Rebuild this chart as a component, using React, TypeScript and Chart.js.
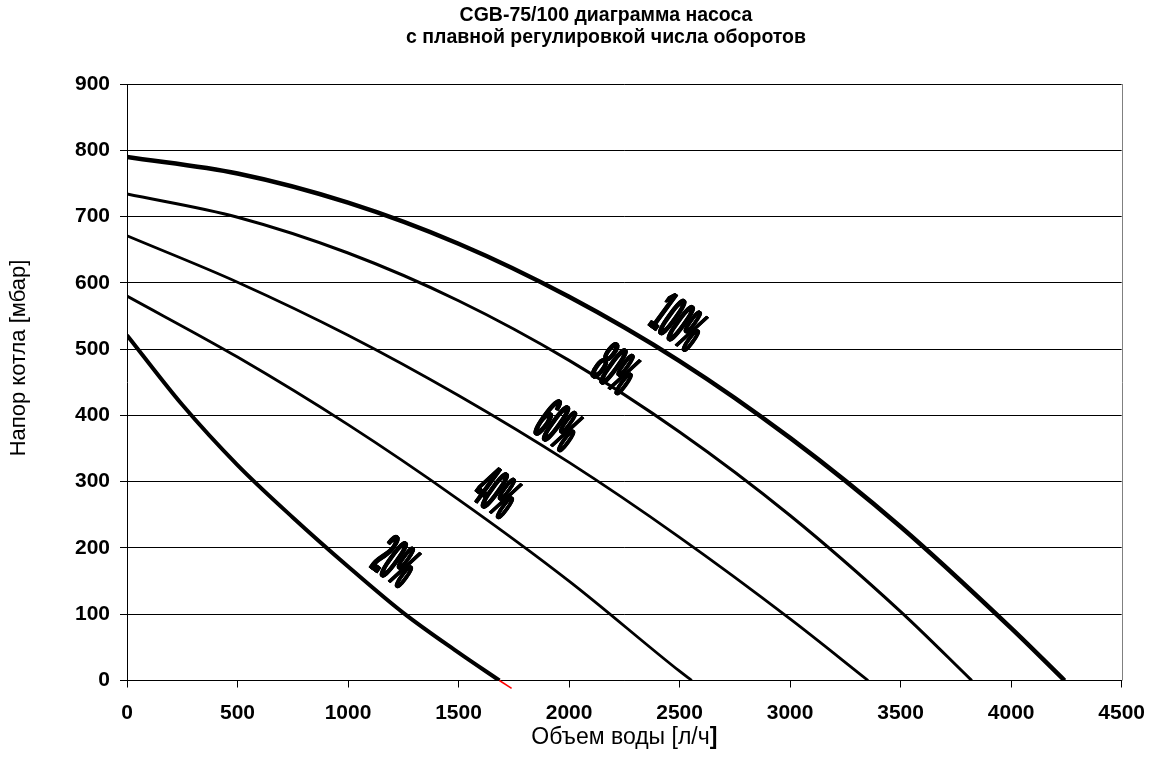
import React, { useEffect, useRef } from 'react';
import { Chart, registerables } from 'chart.js';

Chart.register(...registerables);

// ---- Text ----
const TITLE_LINES = ['CGB-75/100 диаграмма насоса', 'с плавной регулировкой числа оборотов'];
const X_TITLE = 'Объем воды [л/ч';
const X_TITLE_END = ']';
const Y_TITLE = 'Напор котла [мбар]';

// ---- Axes ----
const X_MIN = 0;
const X_MAX = 4500;
const X_STEP = 500;
const Y_MIN = 0;
const Y_MAX = 900;
const Y_STEP = 100;

// ---- Series (flow l/h, head mbar) ----
const flow100 = [0, 500, 1000, 1500, 2000, 2500, 3000, 3500, 4000, 4242];
const head100 = [790, 765, 721, 659, 579, 482, 366, 232, 79, 0];

const flow80 = [0, 500, 1000, 1500, 2000, 2500, 3000, 3500, 3822];
const head80 = [734, 699, 645, 573, 483, 375, 249, 104, 0];

const flow60 = [0, 500, 1000, 1500, 2000, 2500, 3000, 3353];
const head60 = [671, 601, 521, 430, 329, 216, 93, 0];

const flow40 = [0, 500, 1000, 1500, 2000, 2500, 2555];
const head40 = [580, 488, 386, 273, 150, 14, 0];

const flow20 = [0, 250, 500, 750, 1000, 1250, 1500, 1685];
const head20 = [521, 416, 325, 246, 172, 102, 42, 0];

const flow20tail = [1685, 1740];
const head20tail = [0, -12];

// ---- Curve labels (text, anchor in data units) ----
const labelTexts = ['100%', '80%', '60%', '40%', '20%'];
const labelFlow = [2500, 2215, 1955, 1678, 1221];
const labelHead = [542, 472, 386, 285, 181];

const FONT = '"Liberation Sans", Arial, sans-serif';

const toPts = (xs: number[], ys: number[]) => xs.map((x, i) => ({ x, y: ys[i] }));

const overlayPlugin = {
  id: 'overlayText',
  afterDatasetsDraw(chart: any) {
    const { ctx, chartArea, scales } = chart;
    const xs = scales.x;
    const ys = scales.y;
    // right border of plot
    ctx.save();
    ctx.strokeStyle = '#808080';
    ctx.lineWidth = 1;
    ctx.beginPath();
    ctx.moveTo(Math.round(chartArea.right) + 0.5, chartArea.top);
    ctx.lineTo(Math.round(chartArea.right) + 0.5, chartArea.bottom);
    ctx.stroke();
    ctx.restore();

    // curve labels
    const fontSize = 61;
    labelTexts.forEach((t, i) => {
      const px = xs.getPixelForValue(labelFlow[i]);
      const py = ys.getPixelForValue(labelHead[i]);
      ctx.save();
      ctx.translate(px, py);
      ctx.rotate((36 * Math.PI) / 180);
      ctx.fillStyle = '#000';
      ctx.font = `bold ${fontSize}px ${FONT}`;
      ctx.textAlign = 'center';
      ctx.textBaseline = 'alphabetic';
      for (let d = -1; d <= 1.001; d += 0.25) {
        ctx.save();
        ctx.translate(d, 0);
        ctx.scale(0.31, 1);
        ctx.fillText(t, 0, (fontSize * 0.716) / 2);
        ctx.restore();
      }
      ctx.restore();
    });
  },
  afterDraw(chart: any) {
    const { ctx, chartArea } = chart;
    ctx.save();
    ctx.fillStyle = '#000';
    // title
    ctx.font = `bold 19.5px ${FONT}`;
    ctx.textAlign = 'center';
    ctx.textBaseline = 'alphabetic';
    ctx.fillText(TITLE_LINES[0], 606, 21);
    ctx.fillText(TITLE_LINES[1], 606, 43);
    // x title
    const xs = 23;
    ctx.font = `${xs}px ${FONT}`;
    const w1 = ctx.measureText(X_TITLE).width;
    ctx.font = `bold ${xs}px ${FONT}`;
    const w2 = ctx.measureText(X_TITLE_END).width;
    const cx = (chartArea.left + chartArea.right) / 2;
    const startX = cx - (w1 + w2) / 2;
    ctx.textAlign = 'left';
    ctx.textBaseline = 'middle';
    ctx.font = `${xs}px ${FONT}`;
    ctx.fillText(X_TITLE, startX, 738);
    ctx.font = `bold ${xs}px ${FONT}`;
    ctx.fillText(X_TITLE_END, startX + w1, 738);
    // y title
    ctx.translate(19, 358);
    ctx.rotate(-Math.PI / 2);
    ctx.textAlign = 'center';
    ctx.font = `22px ${FONT}`;
    ctx.fillText(Y_TITLE, 0, 0);
    ctx.restore();
  },
};

export default function App() {
  const ref = useRef<HTMLCanvasElement | null>(null);

  useEffect(() => {
    document.body.style.margin = '0';
    const canvas = ref.current;
    if (!canvas) return;
    const lineDs = (xs: number[], ys: number[], width: number, color = '#000', clip: any = undefined) => ({
      data: toPts(xs, ys),
      showLine: true,
      borderColor: color,
      backgroundColor: color,
      borderWidth: width,
      pointRadius: 0,
      pointHoverRadius: 0,
      fill: false,
      cubicInterpolationMode: 'monotone' as const,
      ...(clip !== undefined ? { clip } : {}),
    });
    const chart = new Chart(canvas, {
      type: 'scatter',
      data: {
        datasets: [
          lineDs(flow20tail, head20tail, 1.5, '#ff0000', false),
          lineDs(flow20, head20, 4),
          lineDs(flow40, head40, 2.8),
          lineDs(flow60, head60, 2.8),
          lineDs(flow80, head80, 3),
          lineDs(flow100, head100, 4.5),
        ],
      },
      options: {
        responsive: false,
        animation: false,
        events: [],
        layout: { padding: { top: 84, right: 35, left: 0, bottom: 0 } },
        plugins: {
          legend: { display: false },
          title: { display: false },
          tooltip: { enabled: false },
        },
        scales: {
          x: {
            type: 'linear',
            min: X_MIN,
            max: X_MAX,
            ticks: {
              stepSize: X_STEP,
              color: '#000',
              font: { family: FONT, size: 21, weight: 'bold' },
              padding: 13,
              maxRotation: 0,
              autoSkip: false,
              callback: (v: any) => String(v),
            },
            grid: {
              drawOnChartArea: false,
              drawTicks: true,
              tickLength: 7,
              color: '#000',
              lineWidth: 1,
            },
            border: { display: true, color: '#000', width: 1 },
            afterFit: (s: any) => {
              s.height = 95.5;
            },
          },
          y: {
            type: 'linear',
            min: Y_MIN,
            max: Y_MAX,
            ticks: {
              stepSize: Y_STEP,
              color: '#000',
              font: { family: FONT, size: 21, weight: 'bold' },
              padding: 10,
              autoSkip: false,
              callback: (v: any) => String(v),
            },
            grid: {
              drawOnChartArea: true,
              drawTicks: true,
              tickLength: 7,
              color: '#000',
              lineWidth: 1,
            },
            border: { display: true, color: '#000', width: 1 },
            afterFit: (s: any) => {
              s.width = 127;
            },
          },
        },
      },
      plugins: [overlayPlugin],
    });
    return () => chart.destroy();
  }, []);

  return <canvas ref={ref} width={1158} height={776} style={{ display: 'block', width: 1158, height: 776 }} />;
}
